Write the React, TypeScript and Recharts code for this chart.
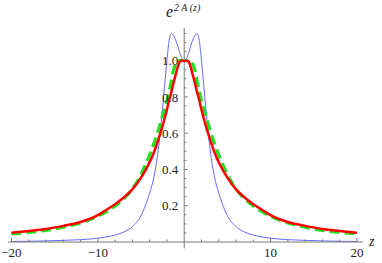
import { LineChart, Line, XAxis, YAxis, ReferenceLine, ReferenceDot } from "recharts";

// ── data ──────────────────────────────────────────────────────────────────

const Z = [
  -20, -18, -16, -14, -12, -10, -9, -8, -7, -6, -5, -4.5, -4, -3.5, -3, -2.5, -2.25, -2, -1.75, -1.5, -1.25, -1, -0.75, -0.5, -0.25,
  0,
  0.25, 0.5, 0.75, 1, 1.25, 1.5, 1.75, 2, 2.25, 2.5, 3, 3.5, 4, 4.5, 5, 6, 7, 8, 9, 10, 12, 14, 16, 18, 20,
];

// thin blue curve (two bumps around |z| ~ 1.5)
const BLUE = [
  0.003, 0.004, 0.006, 0.009, 0.013, 0.021, 0.028, 0.038, 0.055, 0.085, 0.145, 0.2, 0.27, 0.36, 0.51, 0.74, 0.87, 1.0, 1.11, 1.15, 1.14, 1.115, 1.08, 1.04, 1.01,
  1.0,
  1.01, 1.04, 1.08, 1.115, 1.14, 1.15, 1.11, 1.0, 0.87, 0.74, 0.51, 0.36, 0.27, 0.2, 0.145, 0.085, 0.055, 0.038, 0.028, 0.021, 0.013, 0.009, 0.006, 0.004, 0.003,
];

// thick red curve
const RED = [
  0.051, 0.061, 0.072, 0.089, 0.11, 0.148, 0.178, 0.208, 0.245, 0.29, 0.355, 0.395, 0.44, 0.495, 0.565, 0.64, 0.685, 0.73, 0.78, 0.825, 0.875, 0.92, 0.965, 0.995, 1.0,
  1.0,
  1.0, 0.995, 0.965, 0.92, 0.875, 0.825, 0.78, 0.73, 0.685, 0.64, 0.565, 0.495, 0.44, 0.395, 0.355, 0.29, 0.245, 0.208, 0.178, 0.148, 0.11, 0.089, 0.072, 0.061, 0.051,
];

// dashed green curve
const GREEN = [
  0.045, 0.053, 0.064, 0.081, 0.105, 0.142, 0.167, 0.198, 0.238, 0.293, 0.372, 0.425, 0.48, 0.545, 0.615, 0.7, 0.74, 0.78, 0.83, 0.885, 0.945, 0.98, 0.998, 1.0, 1.0,
  1.0,
  1.0, 1.0, 0.998, 0.98, 0.945, 0.885, 0.83, 0.78, 0.74, 0.7, 0.615, 0.545, 0.48, 0.425, 0.372, 0.293, 0.238, 0.198, 0.167, 0.142, 0.105, 0.081, 0.064, 0.053, 0.045,
];

const X_TICKS = [-20, -18, -16, -14, -12, -10, -8, -6, -4, -2, 2, 4, 6, 8, 10, 12, 14, 16, 18, 20];
const X_LABELED = [-20, -10, 10, 20];
const Y_TICKS = [
  0.05, 0.1, 0.15, 0.2, 0.25, 0.3, 0.35, 0.4, 0.45, 0.5, 0.55, 0.6, 0.65, 0.7, 0.75, 0.8, 0.85, 0.9, 0.95, 1.0, 1.05, 1.1, 1.15,
];
const Y_LABELED = [0.2, 0.4, 0.6, 0.8, 1.0];

const data = Z.map((z, i) => ({ z, blue: BLUE[i], red: RED[i], green: GREEN[i] }));

// ── theme ─────────────────────────────────────────────────────────────────

const FONT = "Liberation Serif, Times New Roman, DejaVu Serif, serif";
const AXIS_COLOR = "#7a7a7a";
const LABEL_COLOR = "#222";

const fmtX = (v: number) => (v < 0 ? `\u2212${Math.abs(v)}` : String(v));

// Mathematica-style ticks: pointing into the plot, label below
function XTick(props: any) {
  const { x, y, payload } = props;
  const major = X_LABELED.includes(payload.value);
  return (
    <g>
      <line x1={x} x2={x} y1={y} y2={y - (major ? 4 : 2.5)} stroke={AXIS_COLOR} strokeWidth={1} />
      {major && (
        <text x={x} y={y + 15} textAnchor="middle" fill={LABEL_COLOR} fontSize={13} fontFamily={FONT}>
          {fmtX(payload.value)}
        </text>
      )}
    </g>
  );
}

export default function App() {
  return (
    <div style={{ position: "absolute", left: 0, top: 0, width: 382, height: 263 }}>
      <LineChart width={382} height={263} data={data} margin={{ top: 28, right: 19, bottom: 0, left: 8 }}>
        <XAxis
          dataKey="z"
          type="number"
          domain={[-20.4, 20.7]}
          ticks={X_TICKS}
          interval={0}
          height={21}
          tickSize={0}
          tickMargin={0}
          tick={<XTick />}
          axisLine={{ stroke: AXIS_COLOR }}
          tickLine={false}
          allowDataOverflow
        />
        <YAxis type="number" domain={[0, 1.18]} hide allowDataOverflow />

        {/* vertical axis through z = 0 */}
        <ReferenceLine
          segment={[{ x: 0, y: -0.035 }, { x: 0, y: 1.18 }]}
          stroke={AXIS_COLOR}
          strokeWidth={1}
          ifOverflow="visible"
        />
        {Y_TICKS.map((v) => (
          <ReferenceLine
            key={`yt${v}`}
            segment={[{ x: 0, y: v }, { x: Y_LABELED.includes(v) ? 0.42 : 0.26, y: v }]}
            stroke={AXIS_COLOR}
            strokeWidth={1}
          />
        ))}
        {Y_LABELED.map((v) => (
          <ReferenceDot
            key={`yl${v}`}
            x={0}
            y={v}
            r={0}
            fill="none"
            stroke="none"
            label={{ value: v.toFixed(1), position: "left", offset: 6, fill: LABEL_COLOR, fontSize: 13, fontFamily: FONT }}
          />
        ))}

        <Line dataKey="blue" type="monotone" stroke="#6a6aff" strokeWidth={1} dot={false} isAnimationActive={false} />
        <Line
          dataKey="green"
          type="monotone"
          stroke="#22e022"
          strokeWidth={3.2}
          strokeDasharray="10 5"
          dot={false}
          isAnimationActive={false}
        />
        <Line dataKey="red" type="monotone" stroke="#ff0000" strokeWidth={2.5} dot={false} isAnimationActive={false} />
      </LineChart>

      {/* axis labels */}
      <svg width={382} height={263} style={{ position: "absolute", left: 0, top: 0, pointerEvents: "none" }}>
        <text x={166} y={17} fontFamily={FONT} fontStyle="italic" fontSize={16} fill={LABEL_COLOR}>
          e
        </text>
        <text x={174} y={11} fontFamily={FONT} fontStyle="italic" fontSize={10} fill={LABEL_COLOR}>
          2 A (z)
        </text>
        <text x={369} y={246} fontFamily={FONT} fontStyle="italic" fontSize={14} fill={LABEL_COLOR}>
          z
        </text>
      </svg>
    </div>
  );
}
